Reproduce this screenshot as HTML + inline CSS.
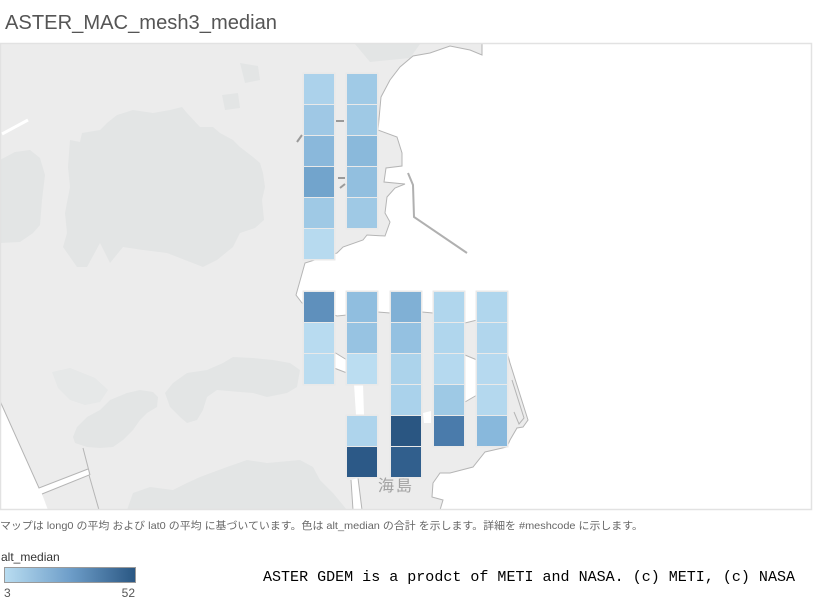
<!DOCTYPE html>
<html>
<head>
<meta charset="utf-8">
<style>
html,body{margin:0;padding:0;background:#fff;}
svg{display:block;}
</style>
</head>
<body>
<svg width="813" height="603" viewBox="0 0 813 603" xmlns="http://www.w3.org/2000/svg">
<defs>
<linearGradient id="lg" x1="0" x2="1" y1="0" y2="0">
<stop offset="0" stop-color="#b9ddf1"/>
<stop offset="0.5" stop-color="#6e9ec9"/>
<stop offset="1" stop-color="#2a5783"/>
</linearGradient>
<clipPath id="mapclip"><rect x="0" y="43" width="812" height="467"/></clipPath>
</defs>

<!-- Title -->
<text x="5" y="29" font-family="Liberation Sans, sans-serif" font-size="20" fill="#555" textLength="272" lengthAdjust="spacingAndGlyphs">ASTER_MAC_mesh3_median</text>

<!-- Map -->
<g clip-path="url(#mapclip)">
<rect x="0" y="43" width="812" height="467" fill="#fff"/>
<!-- main land -->
<path d="M0,43 L482,43 L482,55 L470,50 L450,46 L430,53 L413,56 L400,67 L390,80 L381,97 L378,130 L397,137 L402,153 L402,166 L386,168 L384,182 L405,184 L395,188 L387,197 L385,213 L390,222 L385,236 L367,235 L363,240 L343,247 L337,253 L305,263 L296,295 L302,303 L337,316 L347,315 L378,312 L390,313 L422,312 L433,313 L465,323 L477,320 L506,348 L510,363 L528,420 L523,427 L517,428 L510,440 L507,447 L485,452 L473,467 L450,473 L440,473 L433,483 L432,497 L443,500 L440,510 L0,510 Z" fill="#ececec"/>
<!-- vegetation patches -->
<g fill="#e3e5e5">
<path d="M70,140 L80,142 L82,133 L100,130 L107,123 L117,115 L133,110 L153,113 L170,110 L182,107 L187,113 L200,127 L213,127 L220,133 L233,140 L240,147 L253,157 L260,163 L263,173 L265,187 L262,200 L264,220 L255,228 L240,233 L233,247 L217,260 L203,267 L167,253 L143,250 L123,247 L110,263 L100,243 L87,267 L77,267 L63,247 L67,233 L65,213 L70,187 L68,167 Z"/>
<path d="M0,160 L15,152 L30,150 L40,158 L45,175 L42,200 L40,225 L33,233 L20,242 L0,243 Z"/>
<path d="M73,437 L77,427 L87,417 L100,410 L110,400 L127,393 L140,390 L153,392 L158,397 L157,407 L147,413 L140,420 L133,430 L123,440 L113,447 L100,448 L87,447 L75,443 Z"/>
<path d="M165,393 L173,383 L187,373 L207,370 L223,363 L233,357 L253,358 L273,360 L290,363 L300,370 L297,387 L287,393 L267,397 L253,393 L240,392 L217,390 L207,397 L203,410 L197,420 L187,423 L180,417 L170,407 Z"/>
<path d="M127,510 L133,493 L150,487 L173,490 L187,483 L200,477 L227,467 L247,460 L267,463 L300,460 L313,467 L320,480 L333,493 L347,510 Z"/>
<path d="M52,372 L70,368 L95,378 L108,390 L100,402 L85,405 L70,400 L58,388 Z" fill="#e6e8e8"/>
<path d="M240,63 L258,66 L260,80 L245,83 Z"/>
<path d="M222,95 L238,93 L240,108 L225,110 Z"/>
<path d="M355,44 L420,44 L410,58 L370,62 Z"/>
</g>
<!-- water channels -->
<g fill="#fff">
<path d="M0,401 L39,488 L88,469 L89,475 L42,494 L48,510 L0,510 Z"/>
<path d="M334,352 L347,360 L347,373 L334,368 Z"/>
<path d="M354,384 L363,384 L364,415 L356,415 Z"/>
<path d="M465,355 L477,360 L477,395 L465,402 Z"/>
<path d="M423,413 L431,411 L431,423 L424,423 Z"/>
<path d="M351,480 L358,478 L362,510 L353,510 Z"/>
</g>
<!-- coastlines -->
<g fill="none" stroke="#b5b5b5" stroke-width="1">
<polyline points="482,43 482,55 470,50 450,46 430,53 413,56 400,67 390,80 381,97 378,130 397,137 402,153 402,166 386,168 384,182 405,184 395,188 387,197 385,213 390,222 385,236 367,235 363,240 343,247 337,253 305,263 296,295 302,303 337,316 347,315 378,312 390,313 422,312 433,313 465,323 477,320 506,348 510,363 528,420 523,427 517,428 510,440 507,447 485,452 473,467 450,473 440,473 433,483 432,497 443,500 440,510"/>
<polyline points="0,401 39,488 88,469"/>
<polyline points="42,494 89,475 99,510"/>
<polyline points="83,448 90,475"/>
<polyline points="334,352 347,360"/>
<polyline points="334,368 347,373"/>
<polyline points="465,355 477,360"/>
<polyline points="465,402 477,395"/>
<polyline points="351,480 353,510"/>
<polyline points="358,478 362,510"/>
<polyline points="512,380 524,418 519,424 514,412"/>
</g>
<!-- pier -->
<polyline points="408,173 413,185 414,217 467,253" fill="none" stroke="#b0b0b0" stroke-width="2"/>
<!-- small roads -->
<line x1="2" y1="134" x2="28" y2="120" stroke="#fff" stroke-width="3"/>
<g stroke="#9a9a9a" stroke-width="2">
<line x1="336" y1="121" x2="344" y2="121"/>
<line x1="297" y1="142" x2="302" y2="135"/>
<line x1="338" y1="178" x2="345" y2="178"/>
<line x1="340" y1="188" x2="345" y2="184"/>
</g>
<!-- place label -->
<text x="378" y="491" font-family="Liberation Sans, Noto Sans CJK JP, sans-serif" font-size="16" fill="#a2a2a2" letter-spacing="2">海島</text>

<!-- mesh cells -->
<g>
<rect x="302.5" y="72.5" width="33" height="188" fill="#e9e9e9"/>
<rect x="345.5" y="72.5" width="33" height="157" fill="#e9e9e9"/>
<rect x="302.5" y="290.5" width="33" height="95" fill="#e9e9e9"/>
<rect x="345.5" y="290.5" width="33" height="95" fill="#e9e9e9"/>
<rect x="345.5" y="414.5" width="33" height="64" fill="#e9e9e9"/>
<rect x="389.5" y="290.5" width="33" height="188" fill="#e9e9e9"/>
<rect x="432.5" y="290.5" width="33" height="157" fill="#e9e9e9"/>
<rect x="475.5" y="290.5" width="33" height="157" fill="#e9e9e9"/>
</g>
<g>
<rect x="304" y="74" width="30" height="30" fill="#acd2eb"/>
<rect x="304" y="105" width="30" height="30" fill="#9fc8e5"/>
<rect x="304" y="136" width="30" height="30" fill="#8ab8db"/>
<rect x="304" y="167" width="30" height="30" fill="#72a4cc"/>
<rect x="304" y="198" width="30" height="30" fill="#9fc9e5"/>
<rect x="304" y="229" width="30" height="30" fill="#b7daef"/>

<rect x="347" y="74" width="30" height="30" fill="#a0cae6"/>
<rect x="347" y="105" width="30" height="30" fill="#9fc9e5"/>
<rect x="347" y="136" width="30" height="30" fill="#8ab9db"/>
<rect x="347" y="167" width="30" height="30" fill="#92bfdf"/>
<rect x="347" y="198" width="30" height="30" fill="#9fc9e5"/>

<rect x="304" y="292" width="30" height="30" fill="#5f90bc"/>
<rect x="304" y="323" width="30" height="30" fill="#b8dbf0"/>
<rect x="304" y="354" width="30" height="30" fill="#badcf0"/>

<rect x="347" y="292" width="30" height="30" fill="#90bedf"/>
<rect x="347" y="323" width="30" height="30" fill="#97c3e2"/>
<rect x="347" y="354" width="30" height="30" fill="#bbddf1"/>
<rect x="347" y="416" width="30" height="30" fill="#aed4ec"/>
<rect x="347" y="447" width="30" height="30" fill="#2c5987"/>

<rect x="391" y="292" width="30" height="30" fill="#80b0d5"/>
<rect x="391" y="323" width="30" height="30" fill="#94c1e1"/>
<rect x="391" y="354" width="30" height="30" fill="#acd3eb"/>
<rect x="391" y="385" width="30" height="30" fill="#aad2eb"/>
<rect x="391" y="416" width="30" height="30" fill="#2a5682"/>
<rect x="391" y="447" width="30" height="30" fill="#315f8d"/>

<rect x="434" y="292" width="30" height="30" fill="#b0d6ed"/>
<rect x="434" y="323" width="30" height="30" fill="#b0d6ed"/>
<rect x="434" y="354" width="30" height="30" fill="#b5d9ef"/>
<rect x="434" y="385" width="30" height="30" fill="#9ec9e5"/>
<rect x="434" y="416" width="30" height="30" fill="#4a7bab"/>

<rect x="477" y="292" width="30" height="30" fill="#b0d6ed"/>
<rect x="477" y="323" width="30" height="30" fill="#b1d6ed"/>
<rect x="477" y="354" width="30" height="30" fill="#b6d9ef"/>
<rect x="477" y="385" width="30" height="30" fill="#b4d8ee"/>
<rect x="477" y="416" width="30" height="30" fill="#88b8dc"/>
</g>
</g>
<!-- map frame -->
<rect x="0.5" y="43.5" width="811" height="466" fill="none" stroke="#e2e2e2" stroke-width="1.5"/>

<!-- caption -->
<text x="0" y="529" font-family="Liberation Sans, Noto Sans CJK JP, sans-serif" font-size="10.5" fill="#666" textLength="643" lengthAdjust="spacingAndGlyphs">マップは long0 の平均 および lat0 の平均 に基づいています。色は alt_median の合計 を示します。詳細を #meshcode に示します。</text>

<!-- legend -->
<text x="1" y="561" font-family="Liberation Sans, sans-serif" font-size="12" fill="#333">alt_median</text>
<rect x="4.5" y="567.5" width="131" height="15" fill="url(#lg)" stroke="#9a9a9a" stroke-width="1"/>
<text x="4" y="597" font-family="Liberation Sans, sans-serif" font-size="12" fill="#555">3</text>
<text x="135" y="597" font-family="Liberation Sans, sans-serif" font-size="12" fill="#555" text-anchor="end">52</text>

<!-- copyright -->
<text x="263" y="581" font-family="Liberation Mono, monospace" font-size="14.5" fill="#000" textLength="532" lengthAdjust="spacingAndGlyphs">ASTER GDEM is a prodct of METI and NASA. (c) METI, (c) NASA</text>
</svg>
</body>
</html>
